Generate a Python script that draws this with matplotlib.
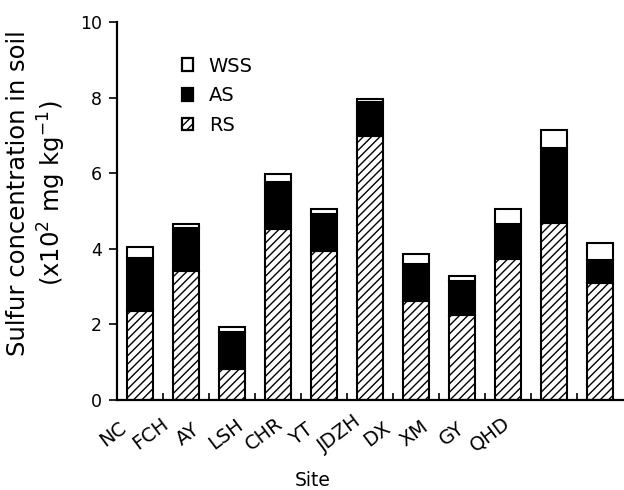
import numpy as np
import matplotlib
matplotlib.use("Agg")
import matplotlib.pyplot as plt
from matplotlib.patches import Patch

plt.rcParams["font.family"] = ["DejaVu Sans"]
plt.rcParams["mathtext.fontset"] = "dejavusans"
plt.rcParams["hatch.linewidth"] = 1.0

# data (x10^2 mg/kg)
sites = ["NC", "FCH", "AY", "LSH", "CHR", "YT", "JDZH", "DX", "XM", "GY", "QHD"]
rs = [2.36, 3.40, 0.82, 4.52, 3.94, 6.99, 2.63, 2.25, 3.72, 4.69, 3.09]
as_ = [1.39, 1.14, 0.97, 1.26, 0.99, 0.89, 0.97, 0.89, 0.94, 1.97, 0.61]
wss = [0.31, 0.12, 0.13, 0.20, 0.11, 0.08, 0.26, 0.14, 0.38, 0.48, 0.45]

W, H = 624, 490
fig = plt.figure(figsize=(W / 100, H / 100), dpi=100)
ax = fig.add_axes([117 / W, 1 - 400 / H, (623 - 117) / W, (400 - 22) / H])

x = np.arange(len(sites))
rs = np.array(rs)
as_ = np.array(as_)
wss = np.array(wss)
bw = 0.57
kw = dict(width=bw, edgecolor="black", linewidth=1.5)
ax.bar(x, rs, color="white", hatch="////", **kw)
ax.bar(x, as_, bottom=rs, color="black", **kw)
ax.bar(x, wss, bottom=rs + as_, color="white", **kw)

ax.set_xlim(-0.5, len(sites) - 0.5)
ax.set_ylim(0, 10)
ax.set_yticks([0, 2, 4, 6, 8, 10])
ax.tick_params(axis="y", direction="out", length=6, width=1.2, labelsize=12.5, pad=5)
ax.set_xticks(np.arange(0.5, len(sites) - 0.5, 1))
ax.tick_params(axis="x", direction="in", length=5, width=1.2, labelbottom=False)
for s in ["top", "right"]:
    ax.spines[s].set_visible(False)
for s in ["left", "bottom"]:
    ax.spines[s].set_linewidth(1.6)

# rotated site labels (spacing in the original is tighter than the bars)
for i, name in enumerate(sites):
    px = 113 + 37.7 * i
    fig.text(px / W, 1 - 434 / H, name, rotation=37, ha="center", va="center", fontsize=14)

fig.text(313 / W, 1 - 480 / H, "Site", ha="center", va="center", fontsize=13.5)
fig.text(37 / W, 1 - 193 / H, "Sulfur concentration in soil\n(x10$^2$ mg kg$^{-1}$)",
         rotation=90, ha="center", va="center", multialignment="center", fontsize=17.5)

handles = [Patch(facecolor="white", edgecolor="black", linewidth=1.6, label="WSS"),
           Patch(facecolor="black", edgecolor="black", linewidth=1.6, label="AS"),
           Patch(facecolor="white", edgecolor="black", linewidth=1.6, hatch="////", label="RS")]
ax.legend(handles=handles, loc="upper left", bbox_to_anchor=(164 / W, 1 - 39 / H),
          bbox_transform=fig.transFigure, frameon=False, fontsize=14,
          handlelength=0.6, handleheight=0.6, handletextpad=0.8, labelspacing=0.55)

fig.savefig("out.png", dpi=100)
